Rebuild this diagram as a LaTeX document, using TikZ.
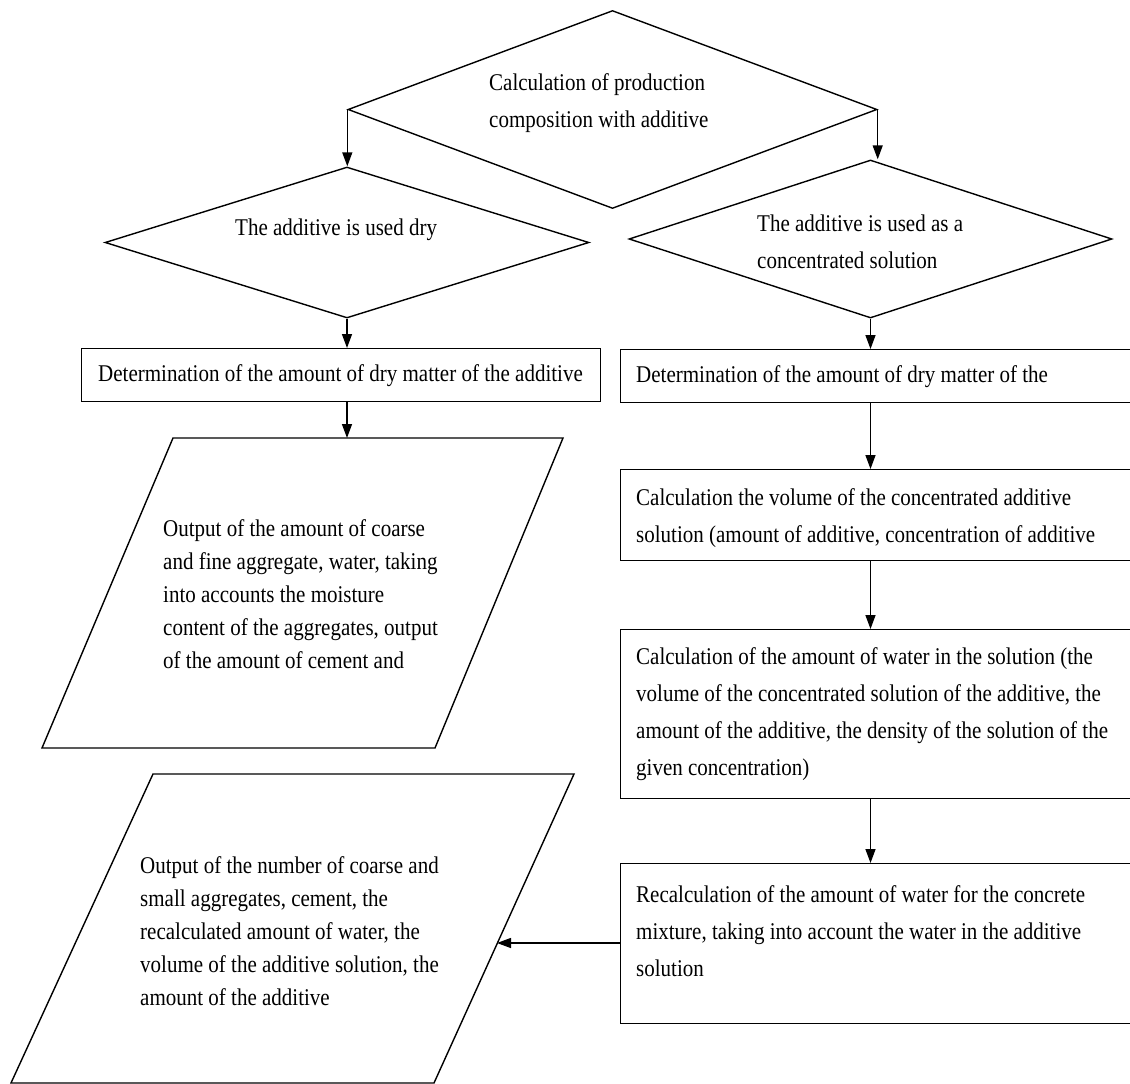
\documentclass[tikz,border=0pt]{standalone}
\usepackage{fontspec}
\setmainfont[FakeStretch=0.875]{Liberation Serif}
\usetikzlibrary{shapes.geometric,arrows.meta}

\tikzset{
  flow/.style={-{Triangle[length=14pt,width=10pt]}, line width=1.4pt},
  decide/.style={diamond, draw, line width=1.4pt, inner sep=0pt, aspect=2},
  stepbox/.style={rectangle, draw, line width=1.4pt, inner sep=0pt, anchor=north west},
  txt/.style={anchor=west, inner sep=0pt, align=left, font=\fontsize{24}{37}\selectfont},
  txtout/.style={txt, font=\fontsize{24}{33}\selectfont}
}

\begin{document}
\begin{tikzpicture}[x=1pt,y=-1pt]
  \clip (0,0) rectangle (1130,1084);

  % decisions
  \node[decide, minimum width=529pt, minimum height=198pt] (top) at (612.5,109.5) {};
  \node[decide, minimum width=484pt, minimum height=151pt] (dryq) at (347,242.5) {};
  \node[decide, minimum width=483pt, minimum height=158pt] (solq) at (870.5,239) {};

  \node[txt] (toptxt) at (489,103.5) {Calculation of production\\composition with additive};
  \node[txt] (drytxt) at (235,230) {The additive is used dry};
  \node[txt] (soltxt) at (757,241.5) {The additive is used as a\\concentrated solution};

  % left branch
  \node[stepbox, minimum width=519pt, minimum height=53pt] (drybox) at (81,348) {};
  \node[txt] (dryboxtxt) at (98,376) {Determination of the amount of dry matter of the additive};

  \draw[line width=1.4pt] (173,438) coordinate (p1tl) -- (563,438) -- (435,748) -- (42,748) -- cycle;
  \coordinate (p1top) at (347,438);
  \node[txtout] (p1txt) at (163,594) {Output of the amount of coarse\\and fine aggregate, water, taking\\into accounts the moisture\\content of the aggregates, output\\of the amount of cement and};

  % right branch
  \node[stepbox, minimum width=520pt, minimum height=53pt] (box1) at (620,349) {};
  \node[stepbox, minimum width=520pt, minimum height=91pt] (box2) at (620,469) {};
  \node[stepbox, minimum width=520pt, minimum height=169pt] (box3) at (620,629) {};
  \node[stepbox, minimum width=520pt, minimum height=160pt] (box4) at (620,863) {};

  \node[txt] (box1txt) at (636,377) {Determination of the amount of dry matter of the};
  \node[txt] (box2txt) at (636,518.5) {Calculation the volume of the concentrated additive\\solution (amount of additive, concentration of additive};
  \node[txt] (box3txt) at (636,714) {Calculation of the amount of water in the solution (the\\volume of the concentrated solution of the additive, the\\amount of the additive, the density of the solution of the\\given concentration)};
  \node[txt] (box4txt) at (636,931) {Recalculation of the amount of water for the concrete\\mixture, taking into account the water in the additive\\solution};

  \draw[line width=1.4pt] (153,774) -- (574,774) -- (434,1083) -- (11,1083) -- cycle;
  \coordinate (p2edge) at (497,943);
  \node[txtout] (p2txt) at (140,931) {Output of the number of coarse and\\small aggregates, cement, the\\recalculated amount of water, the\\volume of the additive solution, the\\amount of the additive};

  % connectors
  \draw[flow] (top.west) -- (top.west |- dryq.north);
  \draw[flow] (top.east) -- (top.east |- solq.north);
  \draw[flow] (dryq.south) -- (dryq.south |- drybox.north);
  \draw[flow] (p1top |- drybox.south) -- (p1top);
  \draw[flow] (solq.south) -- (solq.south |- box1.north);
  \draw[flow] (box1.south -| solq.south) -- (box2.north -| solq.south);
  \draw[flow] (box2.south -| solq.south) -- (box3.north -| solq.south);
  \draw[flow] (box3.south -| solq.south) -- (box4.north -| solq.south);
  \draw[flow] (box4.west |- p2edge) -- (p2edge);
\end{tikzpicture}
\end{document}
